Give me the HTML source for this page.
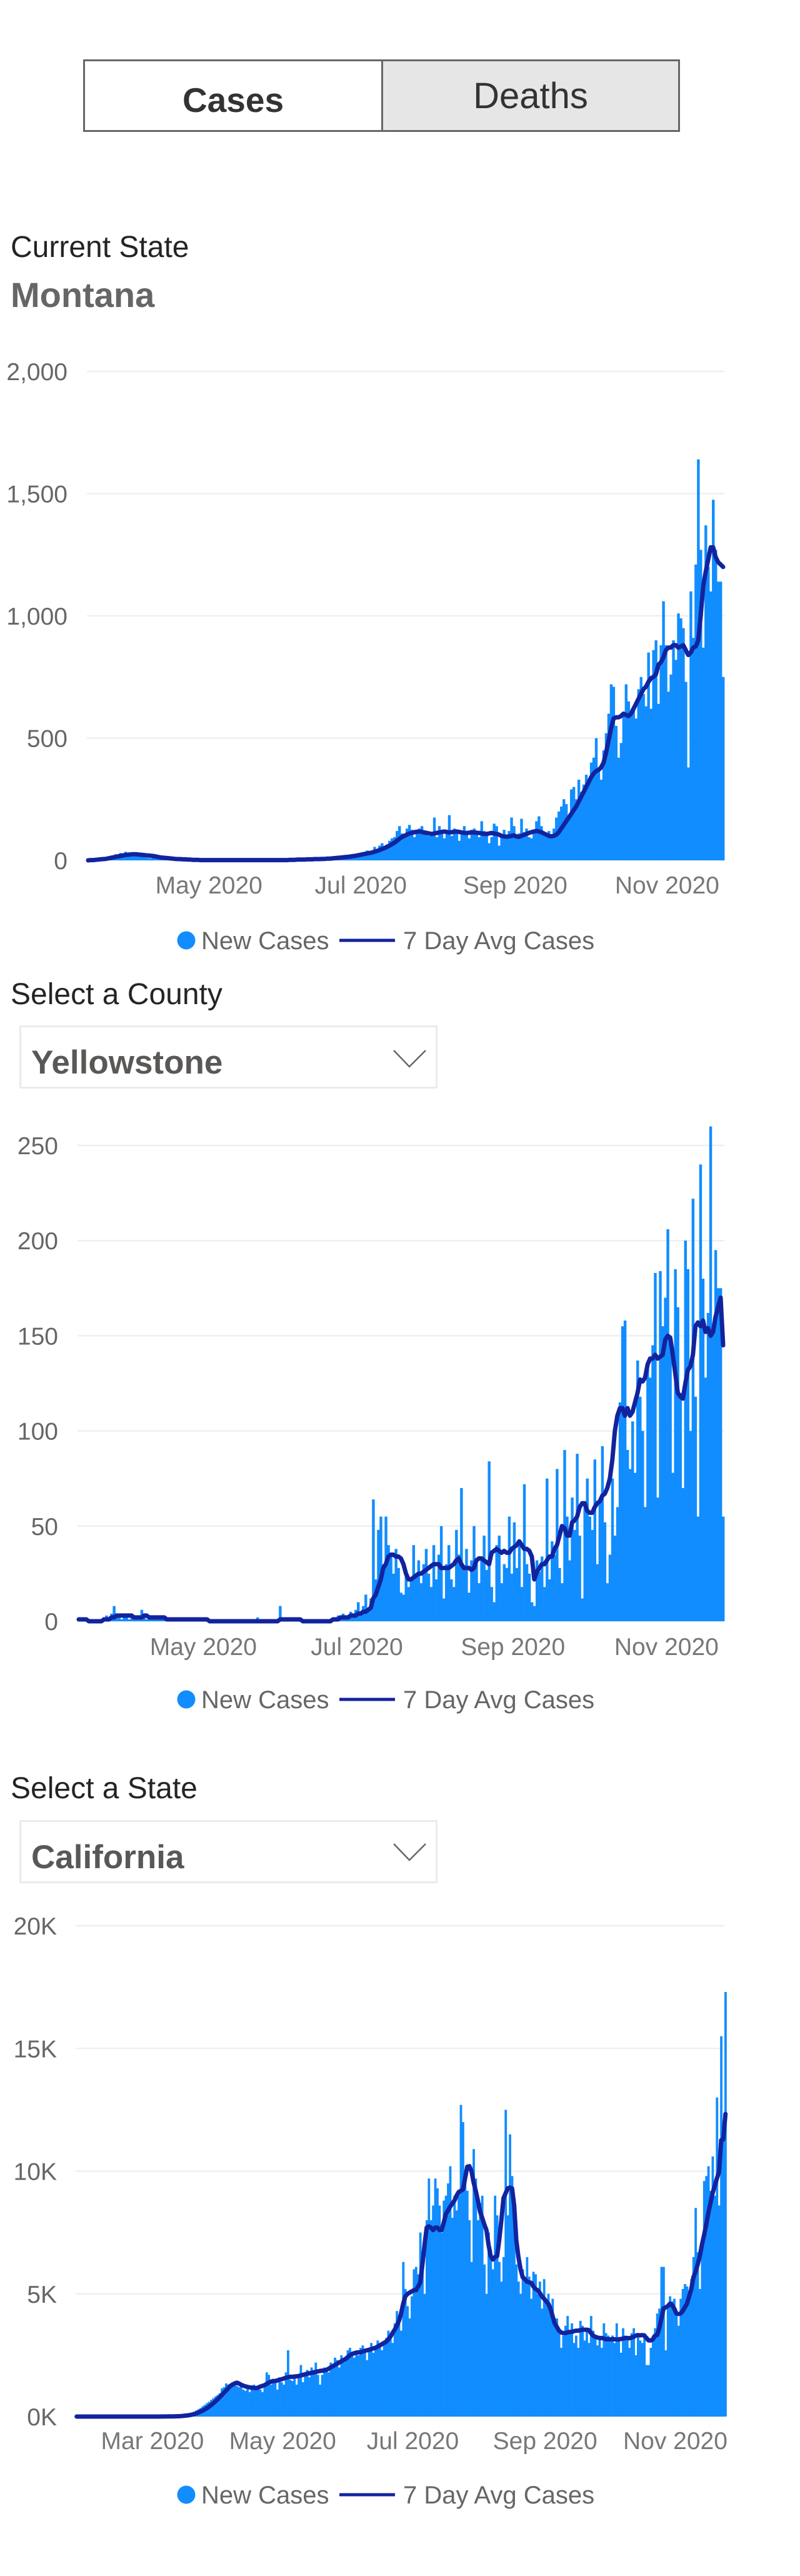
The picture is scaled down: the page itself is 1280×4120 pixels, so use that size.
<!DOCTYPE html>
<html><head><meta charset="utf-8">
<style>
html,body{margin:0;padding:0;background:#fff;}
body{width:1280px;height:4120px;position:relative;overflow:hidden;font-family:"Liberation Sans",sans-serif;}
.abs{position:absolute;}
.btn{position:absolute;top:95px;height:116px;box-sizing:border-box;border:3px solid #666;display:flex;align-items:center;justify-content:center;}
.title{position:absolute;left:17px;font-size:48px;color:#252423;line-height:1;white-space:nowrap;}
.dd{position:absolute;left:31px;width:669px;box-sizing:border-box;border:3px solid #ebebeb;background:#fff;}
.ddtext{position:absolute;left:16px;font-weight:bold;font-size:53px;color:#5a5857;line-height:1;}
svg text{font-family:"Liberation Sans",sans-serif;}
</style></head>
<body>
<div class="btn" style="left:133px;width:480px;background:#fff;"><span style="font-weight:bold;font-size:55px;color:#333;margin-top:14px;">Cases</span></div>
<div class="btn" style="left:610px;width:478px;background:#e6e6e6;"><span style="font-size:58px;color:#333;">Deaths</span></div>

<div class="title" style="top:372px;">Current State</div>
<div class="abs" style="left:17px;top:444px;font-size:56px;font-weight:bold;color:#666;line-height:1;">Montana</div>

<svg id="chart1" class="abs" style="left:0;top:540px;" width="1280" height="1000"></svg>

<div class="title" style="top:1567px;">Select a County</div>
<div class="dd" style="top:1640px;height:101px;">
  <div class="ddtext" style="top:30px;">Yellowstone</div>
  <svg class="abs" style="left:594px;top:35px;" width="56" height="32"><polyline points="2,2 27,28 53,2" fill="none" stroke="#666" stroke-width="2.5"/></svg>
</div>

<svg id="chart2" class="abs" style="left:0;top:1780px;" width="1280" height="980"></svg>

<div class="title" style="top:2837px;">Select a State</div>
<div class="dd" style="top:2911px;height:101px;">
  <div class="ddtext" style="top:30px;">California</div>
  <svg class="abs" style="left:594px;top:33px;" width="56" height="32"><polyline points="2,2 27,28 53,2" fill="none" stroke="#666" stroke-width="2.5"/></svg>
</div>

<svg id="chart3" class="abs" style="left:0;top:3030px;" width="1280" height="1090"></svg>

<script>
// ---------- Montana (starts 2020-03-13) ----------
const mtCases = [1,0,3,2,5,6,8,10,12,15,20,25,24,30,28,35,20,30,25,
20,25,18,15,12,10,8,15,10,8,6,5,7,4,5,3,4,2,3,2,3,1,2,1,2,0,1,2,1,0,
1,0,2,1,0,1,0,2,1,0,3,1,0,1,2,0,1,1,0,2,1,0,1,0,2,1,0,3,1,2,1,
2,1,3,2,4,3,2,5,4,3,6,4,8,5,3,7,5,9,6,10,8,12,10,15,14,18,20,17,22,25,
30,25,40,28,35,55,45,60,70,50,65,80,90,95,120,140,110,100,130,145,125,95,110,130,140,120,105,100,115,175,95,
140,110,90,120,185,100,130,125,80,110,140,115,90,125,130,105,95,160,120,110,70,95,150,140,60,105,125,100,120,175,140,
100,110,170,115,130,95,90,120,160,180,140,110,100,120,105,130,175,200,220,250,230,180,290,300,250,330,280,310,350,330,
400,420,500,380,330,450,520,600,720,710,550,420,480,600,720,650,600,620,580,700,750,680,630,850,620,860,900,640,880,1060,880,
690,760,900,820,1010,990,950,730,380,1100,910,1210,1640,1270,870,1370,1200,1100,1475,1270,1140,1140,750];
const mtAvg = [0,1,1,2,3,4,5,6,8,10,12,14,16,18,20,22,23,24,25,
25,24,23,22,21,20,19,18,16,14,12,11,10,9,8,7,6,5,5,4,4,3,3,2,2,2,1,1,1,1,
1,1,1,1,1,1,1,1,1,1,1,1,1,1,1,1,1,1,1,1,1,1,1,1,1,1,1,1,1,1,1,
1,2,2,2,3,3,3,3,4,4,4,5,5,5,6,6,7,7,8,9,10,11,12,13,14,15,17,18,20,22,
24,26,28,30,32,35,38,42,46,50,55,60,66,72,80,88,95,100,105,110,112,115,117,118,116,114,112,110,108,110,112,
114,116,118,116,114,115,117,118,116,114,112,112,113,114,114,113,112,110,108,108,110,112,110,108,105,100,98,97,98,100,102,
98,96,100,104,108,112,115,118,120,118,115,110,105,100,98,100,105,115,130,145,160,175,190,205,220,240,260,280,300,320,
340,355,365,370,380,400,440,490,540,580,585,585,590,600,595,590,600,620,640,660,680,700,710,730,745,750,760,800,810,830,860,
870,870,880,880,870,875,880,860,840,850,870,875,900,1000,1120,1180,1230,1280,1280,1240,1220,1210,1200];
const mtYTicks = [0,500,1000,1500,2000];
const mtYLabels = ["0","500","1,000","1,500","2,000"];
const mtXTickDays = [49,110,172,233];
const mtXLabels = ["May 2020","Jul 2020","Sep 2020","Nov 2020"];

// ---------- Yellowstone (starts 2020-03-12) ----------
const ysCases = [1,0,1,0,1,0,0,1,0,0,2,3,2,4,8,3,2,1,2,3,
1,2,3,1,2,6,2,1,3,2,1,3,1,2,1,0,1,2,1,0,1,0,2,1,0,1,1,0,2,0,
0,1,0,0,1,0,0,0,1,0,0,0,0,0,1,0,0,0,0,0,0,2,0,0,0,0,0,1,0,0,8,
1,2,1,0,0,1,0,0,0,0,0,1,0,0,1,0,0,0,0,1,2,1,3,2,4,2,1,5,3,6,
10,4,8,14,6,12,64,22,48,55,30,55,40,35,25,38,28,15,14,25,18,22,40,25,32,20,30,38,25,18,40,
22,35,50,12,30,40,22,18,48,35,70,28,38,15,32,50,30,20,33,45,27,84,18,10,40,45,20,30,28,55,25,
52,28,40,18,72,30,25,10,8,32,26,34,18,75,22,42,35,80,28,20,90,55,32,65,48,88,45,12,60,75,
55,48,85,30,62,92,52,20,35,75,45,60,115,155,158,90,80,105,78,137,118,100,60,135,128,145,183,65,184,155,170,
206,150,78,185,165,120,70,200,185,100,222,118,55,240,180,128,162,260,152,195,175,175,55];
const ysAvg = [1,1,1,1,0,0,0,0,0,0,1,1,1,2,2,3,3,3,3,3,
3,3,2,2,2,2,3,3,2,2,2,2,2,2,2,1,1,1,1,1,1,1,1,1,1,1,1,1,1,1,
1,1,0,0,0,0,0,0,0,0,0,0,0,0,0,0,0,0,0,0,0,0,0,0,0,0,0,0,0,0,1,
1,1,1,1,1,1,1,1,0,0,0,0,0,0,0,0,0,0,0,0,1,1,1,2,2,2,2,3,3,3,
4,4,5,5,6,7,12,14,18,22,28,30,34,35,35,34,34,33,30,25,22,22,23,24,25,25,26,27,28,29,30,
30,30,28,28,28,28,29,30,32,33,30,28,28,28,27,28,32,33,33,32,31,30,36,37,38,37,36,37,36,36,38,
39,40,42,40,38,38,37,34,22,26,28,30,30,32,34,34,38,40,45,50,49,45,45,52,53,55,60,62,62,58,
57,57,60,62,63,66,67,70,75,85,100,108,112,112,108,112,108,110,115,120,127,126,128,135,138,138,140,138,139,140,148,
150,149,140,130,120,118,117,125,132,134,140,155,157,155,158,152,154,150,152,160,165,170,145];
const ysYTicks = [0,50,100,150,200,250];
const ysYLabels = ["0","50","100","150","200","250"];
const ysXTickDays = [50,111,173,234];
const ysXLabels = ["May 2020","Jul 2020","Sep 2020","Nov 2020"];

// ---------- California (starts 2020-01-25) ----------
const caCases = [1,0,0,0,0,0,0,
0,1,0,0,0,0,0,0,1,0,0,0,0,0,0,0,0,0,0,0,1,0,0,1,0,0,2,0,1,3,
1,1,2,2,3,5,8,10,15,18,25,35,45,60,80,100,130,160,200,250,300,350,420,480,550,600,680,750,820,880,950,
1150,1200,1350,1300,1250,1400,1300,1250,1200,1300,1100,1050,1250,1000,1150,1300,1200,1150,1100,1000,1200,1800,1700,1300,1400,1500,1100,1600,1400,1300,
1800,2700,1500,1450,1700,1300,1600,2100,1400,1800,1900,1600,2000,1900,2200,1700,1300,1700,2000,1900,1800,2200,2100,2400,2300,2000,2500,2200,2300,2700,2800,
2600,2400,2700,2500,2800,2900,2600,2300,2700,3000,2600,2800,3100,2900,2700,3000,3200,3500,3300,3000,3800,4300,4100,3500,6300,5200,4500,4000,4900,6000,
6100,5800,7500,6200,5000,8000,9700,8000,8600,9700,9300,8600,7500,8800,9000,9500,10200,8100,9000,8400,9000,12700,12000,9800,9200,8000,6300,10900,9700,8000,8700,
9000,6200,5000,7500,6800,6000,9000,8200,6300,5500,6500,12500,8200,11500,9800,7800,6200,5500,5000,6000,5500,6500,5700,4800,5900,5800,5000,5500,4400,5600,4700,
5000,4200,4800,3700,4000,3500,2800,3300,3700,4100,3400,3800,3000,3300,2800,3900,3700,3100,3500,3000,4100,3500,3200,2900,3200,2800,3800,3400,3300,3100,
3300,3000,3800,3100,2600,3600,3300,3200,2800,3400,3600,2500,3300,3100,3000,3400,2100,2100,2800,3300,3600,4200,4400,6100,6100,2700,4400,4900,4700,4800,4300,
3700,4800,5200,5400,5300,4700,5600,6500,8500,6700,5200,7200,9600,9800,10200,9200,10600,9000,13000,8600,15500,11900,17300];
const caAvg = [0,0,0,0,0,0,0,
0,0,0,0,0,0,0,0,0,0,0,0,0,0,0,0,0,0,0,0,0,0,0,0,0,0,1,1,1,1,
1,1,1,2,2,3,4,5,7,9,12,16,21,28,37,48,62,80,100,130,160,200,240,290,340,400,470,540,620,700,790,
880,970,1060,1150,1250,1300,1350,1380,1350,1300,1260,1230,1210,1190,1180,1170,1160,1180,1220,1250,1280,1330,1380,1420,1450,1450,1470,1500,1520,1550,
1580,1600,1620,1620,1630,1640,1650,1680,1700,1720,1750,1760,1780,1800,1820,1840,1860,1870,1880,1900,1950,2000,2050,2100,2150,2200,2250,2300,2350,2420,2500,
2550,2580,2600,2620,2620,2650,2680,2700,2720,2750,2780,2800,2850,2900,2950,3000,3050,3150,3250,3400,3540,3700,3900,4200,4600,4900,5000,5050,5100,5150,
5150,5300,5470,6200,7000,7700,7750,7700,7600,7700,7700,7600,7600,7900,8250,8400,8550,8680,8800,9000,9150,9200,9250,9700,10180,10200,10000,9540,9200,8800,8360,
8100,7830,7600,7000,6540,6400,6500,6540,7200,8000,8900,9100,9300,9330,9300,8600,7180,6500,6000,5680,5600,5500,5470,5450,5300,5200,5150,5040,4900,4800,4700,
4600,4400,4100,3800,3650,3500,3430,3400,3400,3430,3450,3450,3480,3500,3500,3520,3540,3540,3540,3520,3400,3300,3250,3220,3200,3200,3180,3150,3150,3150,
3150,3150,3140,3150,3160,3180,3200,3200,3190,3220,3250,3300,3320,3310,3320,3300,3200,3100,3100,3150,3300,3320,3600,4000,4400,4450,4500,4600,4550,4400,4200,
4180,4200,4300,4450,4600,4900,5200,5680,5900,6200,6540,7000,7400,7830,8300,8700,9110,9400,9700,9970,11260,11300,12330];
const caYTicks = [0,5000,10000,15000,20000];
const caYLabels = ["0K","5K","10K","15K","20K"];
const caXTickDays = [36,97,158,220,281];
const caXLabels = ["Mar 2020","May 2020","Jul 2020","Sep 2020","Nov 2020"];

const NS = "http://www.w3.org/2000/svg";
function mk(tag, attrs){ const e=document.createElementNS(NS,tag); for(const k in attrs) e.setAttribute(k,attrs[k]); return e; }

function drawChart(svgId, cases, avg, yTicks, yLabels, xDays, xLabels, L){
  const svg=document.getElementById(svgId);
  const nDays = L.nDays;
  const w = (L.x1-L.x0)/nDays;
  const yMax = yTicks[yTicks.length-1];
  const ys = v => L.y0 - v/yMax*(L.y0-L.yTop);
  const xs = d => L.x0 + d*w;
  yTicks.forEach((t,i)=>{
    const g=mk("line",{x1:L.x0,x2:L.x1,y1:ys(t),y2:ys(t),stroke:"#efefef","stroke-width":2.5});
    
    
    svg.appendChild(g);
    const tx=mk("text",{x:L.lblRight,y:ys(t)+14,"text-anchor":"end","font-size":39,fill:"#666"});
    tx.textContent=yLabels[i];
    
    
    svg.appendChild(tx);
  });
  cases.forEach((v,i)=>{
    const b=mk("rect",{x:xs(i),y:ys(v),width:w+0.4,height:Math.max(0,L.y0-ys(v)),fill:"#118DFF"});
    
    
    svg.appendChild(b);
  });
  const pts=avg.map((v,i)=>(xs(i)+w/2).toFixed(1)+","+ys(v).toFixed(1)).join(" ");
  const pl=mk("polyline",{points:pts,fill:"none",stroke:"#12239E","stroke-width":7,"stroke-linejoin":"round","stroke-linecap":"round"});
  
  
  svg.appendChild(pl);
  xDays.forEach((d,i)=>{
    const tx=mk("text",{x:xs(d),y:L.xLblY,"text-anchor":"middle","font-size":39,fill:"#777"});
    tx.textContent=xLabels[i];
    
    
    svg.appendChild(tx);
  });
  const dot=mk("circle",{cx:298,cy:L.legY,r:14.5,fill:"#118DFF"});
  
  
  svg.appendChild(dot);
  const t1=mk("text",{x:322,y:L.legY+14,"font-size":40,fill:"#666"});
  t1.textContent="New Cases";
  
  
  svg.appendChild(t1);
  const ln=mk("line",{x1:543,x2:632,y1:L.legY,y2:L.legY,stroke:"#12239E","stroke-width":5});
  
  
  svg.appendChild(ln);
  const t2=mk("text",{x:645,y:L.legY+14,"font-size":40,fill:"#666"});
  t2.textContent="7 Day Avg Cases";
  
  
  svg.appendChild(t2);
}

drawChart("chart1", mtCases, mtAvg, mtYTicks, mtYLabels, mtXTickDays, mtXLabels,
  {x0:139,x1:1159,y0:1376-540,yTop:594-540,lblRight:108,xLblY:1429-540,legY:1504-540,nDays:256});
drawChart("chart2", ysCases, ysAvg, ysYTicks, ysYLabels, ysXTickDays, ysXLabels,
  {x0:124,x1:1159,y0:2593-1780,yTop:1832-1780,lblRight:93,xLblY:2647-1780,legY:2718-1780,nDays:257});
drawChart("chart3", caCases, caAvg, caYTicks, caYLabels, caXTickDays, caXLabels,
  {x0:121,x1:1159,y0:3865-3030,yTop:3080-3030,lblRight:91,xLblY:3917-3030,legY:3990-3030,nDays:304});
</script>
</body></html>
